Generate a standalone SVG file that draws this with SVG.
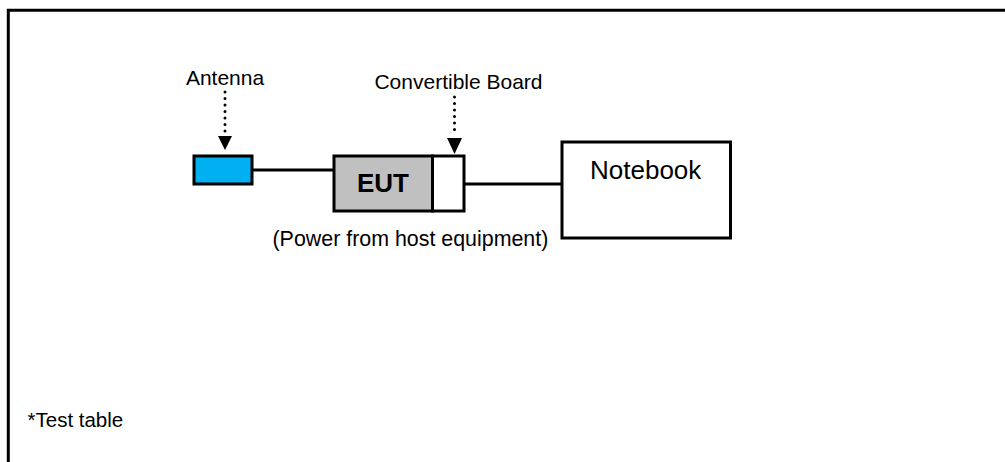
<svg xmlns="http://www.w3.org/2000/svg" width="1005" height="462" viewBox="0 0 1005 462">
<style>
text{font-family:"Liberation Sans",Arial,sans-serif;fill:#000}
.box{stroke:#000;stroke-width:3}
.wire{stroke:#000;stroke-width:3;fill:none}
.dot{stroke:#000;stroke-width:3;stroke-dasharray:0 6.5;stroke-linecap:round;fill:none}
</style>
<defs>
<marker id="ah" viewBox="0 0 14 14" markerWidth="14" markerHeight="14" refX="7" refY="14" orient="auto" markerUnits="userSpaceOnUse">
<path d="M0,0 L14,0 L7,14 Z" fill="#000"/>
</marker>
</defs>
<rect width="1005" height="462" fill="#fff"/>
<path d="M8.3,462 V10.3 H1005" fill="none" stroke="#000" stroke-width="3"/>
<g id="connectors">
<line class="wire" x1="252" y1="170" x2="334" y2="170"/>
<line class="wire" x1="464" y1="184" x2="562" y2="184"/>
<line class="dot" x1="225" y1="92" x2="225" y2="134"/>
<path d="M218,136 L232,136 L225,150 Z" fill="#000"/>
<line class="dot" x1="454.5" y1="97" x2="454.5" y2="134"/>
<path d="M447,138 L462,138 L454.5,154 Z" fill="#000"/>
</g>
<g id="antenna">
<rect class="box" x="194" y="156" width="58" height="28" fill="#00B0F0"/>
<text x="225" y="85" font-size="21" text-anchor="middle">Antenna</text>
</g>
<g id="eut">
<rect class="box" x="334" y="156" width="98.5" height="55" fill="#C0C0C0"/>
<text x="383" y="192" font-size="26" font-weight="bold" text-anchor="middle">EUT</text>
</g>
<g id="board">
<rect class="box" x="432.5" y="156" width="31.5" height="55" fill="#fff"/>
<text x="458.5" y="89" font-size="21" text-anchor="middle">Convertible Board</text>
</g>
<g id="notebook">
<rect class="box" x="562" y="142" width="168.5" height="96" fill="#fff"/>
<text x="590" y="179" font-size="26">Notebook</text>
</g>
<g id="labels">
<text x="272.5" y="246" font-size="21.4">(Power from host equipment)</text>
<text x="27.5" y="427" font-size="20.5">*Test table</text>
</g>
</svg>
